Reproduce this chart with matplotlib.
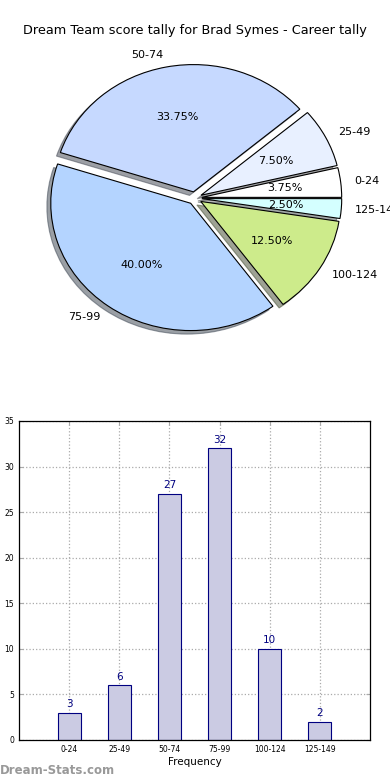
import matplotlib
matplotlib.use("Agg")
import matplotlib.pyplot as plt

categories = ["0-24", "25-49", "50-74", "75-99", "100-124", "125-149"]
counts = [3, 6, 27, 32, 10, 2]
pie_colors = ["#ffffff", "#e8f0ff", "#c6d9ff", "#b4d4ff", "#cdeb8b", "#d4ffff"]
title = "Dream Team score tally for Brad Symes - Career tally"

fig = plt.figure(figsize=(3.9, 7.8), dpi=100)

# Pie chart
axp = fig.add_axes([0.051, 0.542, 0.897, 0.408])
wedges, texts, autotexts = axp.pie(
    counts, labels=categories, colors=pie_colors, explode=[0.05] * len(counts),
    autopct="%1.2f%%", shadow=True, startangle=0,
    wedgeprops=dict(edgecolor="black", linewidth=0.8),
    textprops=dict(fontsize=8))
axp.set_aspect("auto")
axp.set_xlim(-1.25, 1.25)
axp.set_ylim(-1.25, 1.25)
fig.text(0.5, 0.961, title, ha="center", va="center", fontsize=9.3)

# Bar chart
axb = fig.add_axes([0.0487, 0.0513, 0.9, 0.409])
x = list(range(len(categories)))
bars = axb.bar(x, counts, width=0.46, color="#cbcbe3", edgecolor="#000080",
               linewidth=0.8, zorder=2)
for xi, v in zip(x, counts):
    axb.text(xi, v + 0.4, str(v), ha="center", va="bottom", fontsize=7.5,
             color="#000080", zorder=3)
axb.set_xlim(-1, 6)
axb.set_ylim(0, 35)
axb.set_yticks(range(0, 36, 5))
axb.set_xticks(x)
axb.set_xticklabels(categories)
axb.tick_params(axis="both", labelsize=5.5, direction="in", length=3,
                color="#aaaaaa", top=True, right=True)
axb.grid(True, linestyle=":", color="#aaaaaa", linewidth=0.9, zorder=0)
axb.set_axisbelow(True)
axb.set_xlabel("Frequency", fontsize=7.5, labelpad=2)
axb.set_ylabel("Number of Scores", fontsize=7)
axb.yaxis.set_label_coords(-0.046, 0.5)
for s in axb.spines.values():
    s.set_linewidth(0.9)

fig.text(0.0, 0.012, "Dream-Stats.com", fontsize=8.5, color="#999999",
         fontweight="bold", ha="left", va="center")

fig.savefig("out.png", dpi=100)
